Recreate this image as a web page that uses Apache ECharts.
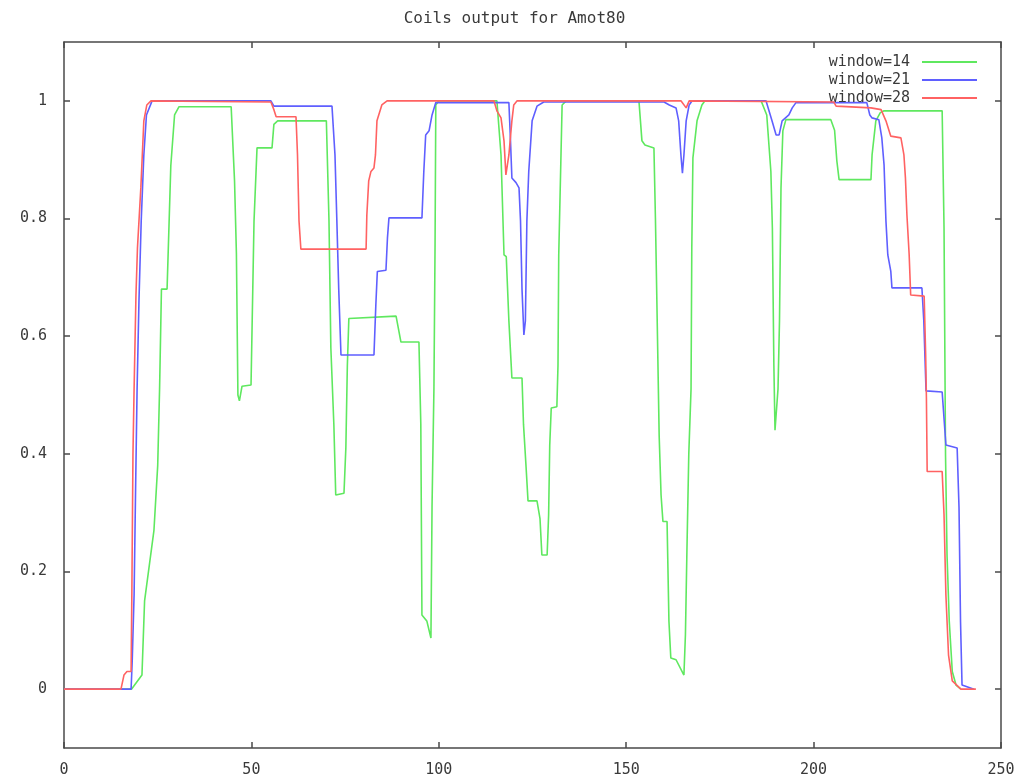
<!DOCTYPE html>
<html>
<head>
<meta charset="utf-8">
<title>Coils output for Amot80</title>
<script src="https://cdn.jsdelivr.net/npm/echarts@6/dist/echarts.min.js"></script>
<style>
  html, body { margin: 0; padding: 0; background: #fff; }
  #main { width: 1029px; height: 781px; }
</style>
</head>
<body>
<div id="main"></div>
<script>
// data: [x, output]
var window14 = [[0,0],[18,0],[20.8,0.024],[21.5,0.15],[24,0.27],[25,0.38],[25.5,0.51],[26,0.68],[27.5,0.68],[28.5,0.89],[29.5,0.976],[30.7,0.99],[44.6,0.99],[45.5,0.864],[46,0.74],[46.4,0.5],[46.8,0.49],[47.5,0.515],[49.9,0.517],[50.7,0.796],[51.5,0.92],[55.5,0.92],[56,0.96],[57,0.966],[70,0.966],[70.7,0.796],[71.2,0.58],[72,0.45],[72.5,0.33],[74.7,0.333],[75.2,0.41],[75.6,0.55],[76,0.63],[88.6,0.634],[89.9,0.59],[94.7,0.59],[95.2,0.45],[95.5,0.126],[96.8,0.116],[97.9,0.087],[98.2,0.313],[98.7,0.51],[99,0.755],[99.2,0.993],[100,1],[115.5,1],[116.6,0.908],[117.4,0.738],[118,0.735],[118.7,0.626],[119.5,0.529],[122.2,0.529],[122.6,0.45],[123.3,0.376],[123.8,0.32],[126.2,0.32],[127,0.29],[127.5,0.228],[128.9,0.228],[129.3,0.296],[129.6,0.415],[130,0.478],[131.5,0.48],[131.8,0.55],[132,0.738],[132.9,0.993],[134,1],[153.4,1],[154.2,0.932],[155,0.925],[157.4,0.92],[157.8,0.8],[158.2,0.653],[158.8,0.43],[159.3,0.33],[159.8,0.285],[160.9,0.285],[161.4,0.116],[161.9,0.053],[163.3,0.05],[165.4,0.024],[165.8,0.092],[166.2,0.235],[166.7,0.4],[167.3,0.51],[167.5,0.75],[167.8,0.903],[168.9,0.966],[170.2,0.993],[171,1],[186,1],[187.5,0.976],[188.6,0.88],[189,0.784],[189.4,0.55],[189.7,0.44],[190.5,0.51],[190.9,0.626],[191.3,0.852],[191.8,0.949],[192.6,0.968],[204.6,0.968],[205.6,0.95],[206.2,0.898],[206.8,0.866],[215.3,0.866],[215.6,0.908],[216.6,0.966],[217.8,0.98],[218.8,0.983],[234.3,0.983],[234.8,0.784],[235.2,0.398],[235.6,0.228],[236.2,0.115],[237,0.03],[238,0.007],[239.3,0]];
var window21 = [[0,0],[17.9,0],[18.2,0.048],[18.7,0.16],[19.1,0.34],[19.5,0.51],[20,0.66],[20.6,0.796],[21.3,0.908],[22,0.976],[23.5,1],[55.2,1],[56,0.991],[71.5,0.991],[72.3,0.908],[72.8,0.796],[73.3,0.68],[73.9,0.568],[82.7,0.568],[83.2,0.653],[83.6,0.71],[85.9,0.712],[86.3,0.767],[86.7,0.801],[95.5,0.801],[96,0.88],[96.5,0.942],[97.4,0.949],[98.2,0.976],[99.2,0.997],[118.7,0.997],[119.1,0.937],[119.5,0.869],[120.6,0.861],[121.4,0.852],[121.8,0.796],[122.2,0.68],[122.7,0.602],[123.1,0.626],[123.5,0.796],[124,0.88],[124.9,0.966],[126.2,0.991],[128,0.998],[160.1,0.998],[161.5,0.993],[163.3,0.988],[164,0.966],[164.6,0.908],[165,0.877],[165.4,0.908],[166,0.966],[166.8,0.993],[167.6,1],[187.3,1],[188.9,0.966],[190,0.942],[190.8,0.942],[191.6,0.966],[193.4,0.976],[194.3,0.988],[195.3,0.997],[214.2,0.997],[215,0.976],[215.6,0.971],[217.4,0.968],[218.2,0.937],[218.8,0.891],[219.3,0.796],[219.8,0.738],[220.6,0.71],[220.9,0.682],[228.9,0.682],[229.4,0.626],[230,0.507],[234.3,0.505],[235.3,0.415],[238.3,0.41],[238.8,0.308],[239.2,0.115],[239.6,0.007],[242.8,0]];
var window28 = [[0,0],[15.2,0],[16,0.024],[16.8,0.03],[17.9,0.03],[18.1,0.16],[18.4,0.4],[18.7,0.51],[19.2,0.67],[19.6,0.75],[20.5,0.852],[21.3,0.966],[22.1,0.993],[23.2,1],[55.2,0.998],[56,0.985],[56.6,0.973],[61.9,0.973],[62.3,0.908],[62.7,0.796],[63.2,0.748],[80.6,0.748],[80.8,0.806],[81.3,0.864],[81.9,0.88],[82.7,0.886],[83.1,0.908],[83.5,0.966],[84.8,0.993],[86.2,1],[114.7,1],[115.5,0.983],[116.6,0.971],[117.4,0.932],[117.9,0.874],[118.7,0.908],[119.5,0.966],[120,0.993],[120.9,1],[164.6,1],[166,0.988],[166.8,1],[205.4,0.998],[206,0.991],[215.3,0.988],[218,0.985],[219.3,0.966],[220.6,0.94],[223.3,0.937],[224.1,0.908],[224.5,0.869],[224.9,0.806],[225.5,0.738],[225.9,0.67],[229.5,0.668],[229.9,0.568],[230.1,0.495],[230.3,0.37],[234.3,0.37],[234.8,0.296],[235.3,0.16],[236,0.058],[237,0.014],[239.3,0],[243.3,0]];

var seriesNames = ['window=14', 'window=21', 'window=28'];
var seriesColors = ['#5fe85f', '#5f5fff', '#ff6262'];
var yTicks = [0, 0.2, 0.4, 0.6, 0.8, 1];

var font = '"DejaVu Sans Mono", "Liberation Mono", monospace';
var axisColor = '#4a4a4a';
var textColor = '#3a3a3a';

var myChart = echarts.init(document.getElementById('main'), null, {renderer: 'canvas'});

// gnuplot-like frame: every side gets a line and inward ticks
function boxAxis(extra) {
    var a = {
        type: 'value',
        axisLine: {show: true, onZero: false, lineStyle: {color: axisColor, width: 1.5}},
        axisTick: {show: true, inside: true, length: 6, lineStyle: {color: axisColor, width: 1.5}},
        splitLine: {show: false},
        axisLabel: {show: false}
    };
    return Object.assign(a, extra);
}

var option = {
    backgroundColor: '#fff',
    animation: false,
    title: {
        text: 'Coils output for Amot80',
        left: 'center',
        top: 6,
        textStyle: {fontFamily: font, fontSize: 16, fontWeight: 'normal', color: textColor}
    },
    legend: {
        data: seriesNames.map(function (n) { return {name: n, icon: 'rect'}; }),
        orient: 'vertical',
        align: 'right',
        right: 52,
        top: 53,
        padding: 0,
        itemWidth: 55,
        itemHeight: 2,
        itemGap: 0,
        textStyle: {fontFamily: font, fontSize: 15, lineHeight: 18, color: textColor, padding: [0, 7, 0, 0]}
    },
    grid: {left: 64, right: 28, top: 42, bottom: 33},
    xAxis: [
        boxAxis({
            min: 0, max: 250, interval: 50, position: 'bottom',
            axisLabel: {show: true, margin: 15, fontFamily: font, fontSize: 15, color: textColor}
        }),
        boxAxis({min: 0, max: 250, interval: 50, position: 'top'})
    ],
    yAxis: [
        boxAxis({
            min: -0.1, max: 1.1, position: 'left',
            axisTick: {show: true, inside: true, length: 6, customValues: yTicks, lineStyle: {color: axisColor, width: 1.5}},
            axisLabel: {show: true, margin: 17, customValues: yTicks, fontFamily: font, fontSize: 15, color: textColor,
                formatter: function (v) { return String(Math.round(v * 10) / 10); }}
        }),
        boxAxis({
            min: -0.1, max: 1.1, position: 'right',
            axisTick: {show: true, inside: true, length: 6, customValues: yTicks, lineStyle: {color: axisColor, width: 1.5}}
        })
    ],
    series: [window14, window21, window28].map(function (d, i) {
        return {
            name: seriesNames[i],
            type: 'line',
            data: d,
            symbol: 'none',
            color: seriesColors[i],
            lineStyle: {width: 1.6, color: seriesColors[i]},
            z: 2 + i
        };
    })
};

myChart.setOption(option);
</script>
</body>
</html>
